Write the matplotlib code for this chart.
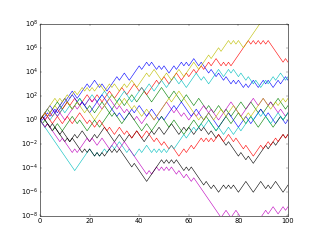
import numpy as np
import matplotlib
matplotlib.use('Agg')
import matplotlib.pyplot as plt

# random-walk levels, in powers of two (value = 2**level)
x = list(range(101))

blue_1 = [0, 0,1,2,1,2,3,2,3,4,5, 6,7,8,7,6,7,8,9,10,9, 10,11,10,9,10,9,8,9,10,11,
          12,11,12,13,12,11,12,13,14,15, 14,15,16,15,16,15,14,15,14,15,
          14,13,14,15,14,15,16,15,16,15, 16,17,16,15,16,15,14,13,14,13,
          12,13,12,11,12,11,10,11,10,11, 10,9,10,9,10,11,10,9,10,11,
          10,11,10,9,10,11,10,11,12,11]
green_1 = [0, 1,2,3,2,3,4,5,4,3,4, 5,4,3,4,5,6,5,4,3,4, 3,2,3,4,5,4,3,2,3,4,
           5,6,5,4,5,6,7,6,5,6, 7,8,7,6,5,6,7,8,9,8, 7,6,7,8,7,6,5,6,7,6,
           5,4,5,6,5,4,3,4,3,2, 3,4,3,2,3,2,1,2,3,4, 5,4,3,4,5,4,3,2,3,2,
           3,4,5,4,5,6,5,4,3,4]
red_1 = [0, 1,0,1,2,1,2,3,2,3,4, 5,4,5,6,5,4,5,6,7,6, 5,6,7,6,5,6,7,8,7,6,
         7,8,9,8,7,8,9,10,9,8, 9,8,7,8,9,10,11,10,11,12, 11,10,11,12,13,12,11,12,13,12,
         13,14,13,14,15,14,15,16,15,16, 17,16,15,16,15,16,15,16,17,18,
         19,20,21,22,21,22,21,22,21,22, 21,22,21,20,19,18,17,16,17,16]
cyan_1 = [0, 1,2,1,0,1,2,1,2,3,2, 3,4,3,4,5,6,5,4,5,6, 7,6,5,6,7,8,7,6,7,6,
          5,6,7,8,7,6,5,6,7,8, 9,8,9,10,9,8,9,10,11,10, 9,10,11,12,11,10,11,10,9,10,
          11,12,13,12,11,12,11,10,11,12, 13,14,13,12,13,14,13,14,13,12,
          13,12,11,12,11,10,11,10,9,10, 11,10,11,12,11,12,13,12,11,12]
magenta_1 = [0, 1,0,1,2,3,2,1,2,1,0, 1,2,3,4,3,4,5,4,5,6, 5,6,5,4,3,4,5,6,5,4,
             3,4,3,2,3,2,1,0,1,0, -1,0,1,2,1,0,1,2,3,4, 5,4,3,2,3,2,1,2,1,0,
             1,2,1,2,3,4,3,2,3,2, 1,0,1,2,3,4,5,4,3,2, 1,2,3,4,5,6,5,4,5,6,
             5,4,5,4,3,2,3,2,1,2]
yellow_1 = [0, 1,2,1,2,3,4,3,4,5,6, 7,6,7,8,7,8,9,8,9,8, 9,8,9,10,9,8,9,10,9,10,
            9,8,9,10,9,10,11,10,9,10, 11,12,13,12,13,14,13,12,11,12,
            13,12,11,12,13,14,13,12,13,14, 15,16,15,14,15,16,17,18,17,18,
            19,20,19,20,21,22,21,22,21,22, 21,20,21,22,23,24,25,26,27,28,
            29,30,31,32,33,32,33,34,35,36]
black_1 = [0, -1,-2,-1,-2,-3,-2,-3,-4,-5,-6, -5,-6,-5,-4,-5,-4,-3,-4,-5,-6,
           -5,-4,-5,-4,-3,-2,-3,-4,-5,-6, -5,-4,-5,-6,-5,-4,-5,-4,-3,-4,
           -5,-6,-5,-4,-3,-4,-3,-2,-3,-4, -3,-2,-1,-2,-3,-4,-3,-2,-3,-2,
           -3,-4,-3,-2,-3,-2,-3,-4,-3,-4, -5,-4,-5,-6,-7,-6,-7,-8,-9,-10,
           -9,-10,-11,-10,-11,-12,-11,-10,-9,-8, -7,-8,-7,-6,-7,-6,-5,-4,-5,-4]
blue_2 = [0, 1,2,3,4,3,2,3,4,5,6, 5,6,7,6,5,4,5,4,3,2, 3,4,5,6,7,6,5,4,3,2,
          1,2,1,0,1,2,3,2,3,4, 3,2,1,2,3,2,1,0,1,0, 1,2,3,4,3,4,5,4,3,2,
          1,2,3,2,1,0,1,2,1,0, -1,-2,-1,0,1,2,1,0,-1,-2, -1,0,1,0,-1,0,1,2,3,2,
          1,2,1,0,-1,0,1,0,-1,0]
green_2 = [0, -1,0,-1,-2,-3,-2,-1,-2,-3,-2, -1,0,1,0,-1,0,-1,-2,-3,-2,
           -1,0,-1,-2,-1,0,1,2,1,2, 1,0,-1,0,1,2,1,0,-1,-2, -3,-2,-1,-2,-3,-2,-1,0,1,0,
           -1,-2,-1,0,-1,-2,-3,-4,-3,-2, -1,0,-1,-2,-1,0,1,0,-1,-2,
           -3,-2,-1,0,1,0,-1,0,1,2, 1,0,-1,0,1,0,-1,-2,-1,0, 1,0,-1,-2,-1,0,1,0,1,2]
red_2 = [0, 1,2,1,0,-1,0,1,0,-1,0, 1,0,-1,0,1,2,1,0,-1,0, -1,-2,-1,0,-1,-2,-3,-2,-3,-4,
         -3,-2,-3,-4,-3,-4,-5,-4,-3,-4, -5,-4,-3,-4,-5,-6,-5,-6,-7,-6,
         -7,-8,-7,-8,-9,-10,-9,-8,-9,-8, -7,-8,-7,-6,-5,-6,-5,-6,-5,-6,
         -5,-4,-5,-6,-5,-4,-5,-6,-5,-6, -7,-8,-7,-8,-9,-10,-9,-8,-7,-8,
         -7,-6,-7,-6,-5,-6,-5,-4,-5,-4]
cyan_2 = [0, -1,-2,-3,-4,-5,-6,-7,-8,-9,-10, -11,-12,-13,-14,-13,-12,-11,-10,-9,-8,
          -9,-10,-9,-10,-9,-8,-9,-8,-7,-8, -7,-6,-7,-8,-9,-8,-9,-10,-9,-8,
          -9,-8,-7,-8,-9,-8,-9,-8,-9,-8, -9,-8,-7,-8,-7,-6,-5,-4,-5,-4,
          -3,-2,-3,-2,-1,-2,-1,0,-1,-2, -3,-2,-3,-4,-3,-2,-3,-4,-3,-2,
          -3,-2,-1,0,1,0,1,2,1,2, 1,0,-1,0,1,2,1,0,1,2]
magenta_2 = [0, -1,-2,-1,-2,-3,-4,-5,-6,-5,-6, -7,-8,-9,-8,-9,-8,-7,-6,-5,-6,
             -5,-6,-7,-6,-5,-6,-7,-8,-7,-6, -7,-8,-7,-6,-7,-8,-9,-10,-11,-12,
             -13,-14,-15,-14,-15,-14,-13,-14,-13,-14, -13,-14,-13,-14,-15,-14,-15,-16,-15,-16,
             -17,-16,-17,-18,-19,-20,-21,-22,-23,-24, -25,-26,-27,-26,-25,-26,-27,-26,-25,-26,
             -27,-28,-29,-28,-29,-28,-29,-28,-27,-26, -25,-26,-25,-24,-25,-26,-25,-24,-25,-24]
yellow_2 = [0, 1,2,3,4,5,6,5,6,5,6, 5,4,3,4,5,4,3,2,3,2, 1,0,1,2,3,4,5,6,7,6,
            5,4,5,6,5,4,3,4,3,2, 1,2,3,2,1,0,1,2,3,4, 5,6,5,6,7,8,7,6,5,4,
            3,2,1,0,1,0,1,2,1,0, 1,2,3,2,1,2,3,4,3,2, 1,0,1,2,1,2,3,4,5,6,
            5,4,3,4,5,4,5,6,5,6]
black_2 = [0, 1,0,-1,-2,-1,-2,-3,-4,-3,-4, -5,-6,-5,-6,-7,-8,-9,-8,-9,-8,
           -9,-10,-9,-10,-9,-10,-9,-8,-9,-8, -9,-8,-9,-10,-11,-12,-13,-12,-13,-14,
           -15,-16,-17,-16,-15,-14,-13,-12,-11,-12, -11,-12,-11,-12,-11,-12,-13,-14,-13,-14,
           -13,-14,-15,-16,-17,-18,-17,-18,-19,-18, -19,-20,-19,-18,-19,-18,-19,-18,-19,-20,
           -19,-18,-17,-18,-19,-20,-19,-18,-17,-18, -19,-18,-19,-18,-17,-18,-19,-20,-19,-18]

walks = [blue_1, green_1, red_1, cyan_1, magenta_1, yellow_1, black_1,
         blue_2, green_2, red_2, cyan_2, magenta_2, yellow_2, black_2]

plt.style.use('classic')
fig = plt.figure(figsize=(8, 6), dpi=40, facecolor='white')
ax = fig.add_subplot(111)
for w in walks:
    ax.semilogy(x, 2.0 ** np.array(w))
ax.set_xlim(0, 100)
ax.set_ylim(1e-8, 1e8)
ax.set_yticks([1e-8, 1e-6, 1e-4, 1e-2, 1e0, 1e2, 1e4, 1e6, 1e8])
ax.minorticks_off()
fig.savefig('out.png', dpi=40, facecolor='white')
